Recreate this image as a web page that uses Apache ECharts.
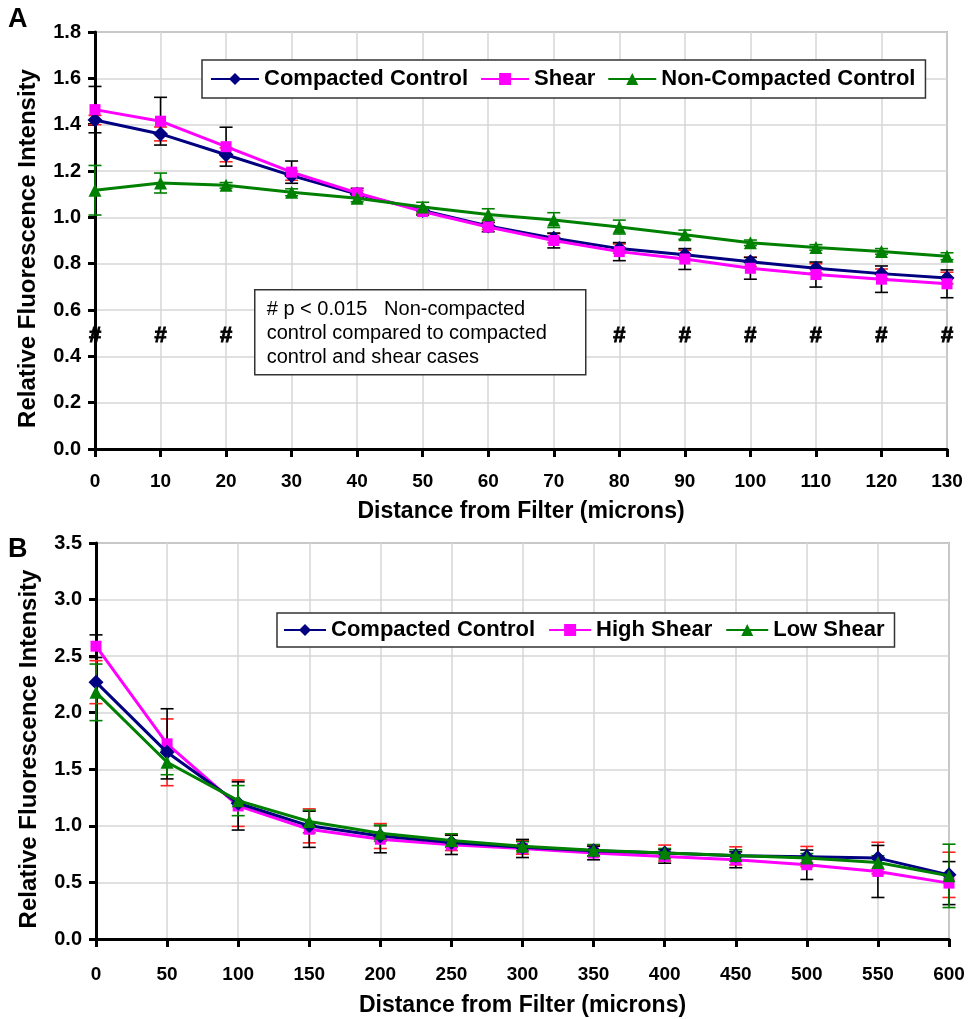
<!DOCTYPE html>
<html>
<head>
<meta charset="utf-8">
<script src="https://cdn.jsdelivr.net/npm/echarts@6/dist/echarts.min.js"></script>
<style>
  html, body { margin: 0; padding: 0; background: #fff; }
  #chart { width: 968px; height: 1019px; }
</style>
</head>
<body>
<div id="chart"></div>
<script>
// Panel A: distance from filter (microns) and mean relative fluorescence
const distA = [0, 10, 20, 30, 40, 50, 60, 70, 80, 90, 100, 110, 120, 130];
const compactedA = [1.42, 1.36, 1.27, 1.18, 1.10, 1.03, 0.963, 0.91, 0.865, 0.838, 0.808, 0.78, 0.757, 0.738];
const shearA = [1.465, 1.415, 1.305, 1.195, 1.105, 1.025, 0.958, 0.90, 0.852, 0.82, 0.78, 0.753, 0.733, 0.713];
const nonCompactedA = [1.117, 1.148, 1.138, 1.108, 1.082, 1.045, 1.012, 0.988, 0.958, 0.925, 0.89, 0.87, 0.853, 0.832];
// Panel A: standard deviations
const compactedErrA = [0.02, 0.03, 0.03, 0.02, 0.015, 0.015, 0.015, 0.02, 0.02, 0.02, 0.02, 0.02, 0.02, 0.025];
const shearErrA = [0.10, 0.103, 0.084, 0.048, 0.02, 0.015, 0.02, 0.032, 0.039, 0.045, 0.047, 0.054, 0.057, 0.06];
const nonCompactedErrA = [0.107, 0.043, 0.012, 0.015, 0.015, 0.02, 0.025, 0.032, 0.03, 0.02, 0.012, 0.012, 0.012, 0.015];
// Panel A: distances with p < 0.015, and the height of the marker row
const signifX = [0, 10, 20, 80, 90, 100, 110, 120, 130];
const signifY = 0.49;

// Panel B: distance from filter (microns) and mean relative fluorescence
const distB = [0, 50, 100, 150, 200, 250, 300, 350, 400, 450, 500, 550, 600];
const compactedB = [2.27, 1.65, 1.20, 1.00, 0.91, 0.852, 0.81, 0.78, 0.76, 0.735, 0.728, 0.715, 0.567];
const highShearB = [2.588, 1.725, 1.176, 0.97, 0.882, 0.832, 0.80, 0.76, 0.73, 0.70, 0.656, 0.597, 0.494];
const lowShearB = [2.18, 1.562, 1.223, 1.038, 0.935, 0.87, 0.82, 0.785, 0.76, 0.738, 0.715, 0.676, 0.558];
// Panel B: standard deviations
const compactedErrB = [0.19, 0.295, 0.205, 0.15, 0.11, 0.07, 0.06, 0.05, 0.07, 0.08, 0.09, 0.14, 0.2];
const highShearErrB = [0.1, 0.31, 0.213, 0.16, 0.12, 0.085, 0.08, 0.06, 0.06, 0.07, 0.13, 0.23, 0.19];
const lowShearErrB = [0.25, 0.11, 0.133, 0.1, 0.07, 0.06, 0.04, 0.05, 0.04, 0.05, 0.04, 0.06, 0.28];

// Axis ticks
const yTicksA = { min: 0, max: 1.8, interval: 0.2 };
const xTicksA = { min: 0, max: 130, interval: 10 };
const yTicksB = { min: 0, max: 3.5, interval: 0.5 };
const xTicksB = { min: 0, max: 600, interval: 50 };

const FONT = '"Liberation Sans", Arial, sans-serif';
const NAVY = '#000080', MAGENTA = '#FF00FF', GREEN = '#008000';

const pairs = (xs, ys) => xs.map((x, i) => [x, ys[i]]);
const errRows = (xs, ys, es) => xs.map((x, i) => [x, ys[i] - es[i], ys[i] + es[i]]);

function errorBars(data, color, gridIdx) {
  return {
    type: 'custom',
    xAxisIndex: gridIdx,
    yAxisIndex: gridIdx,
    data: data,
    z: 1,
    silent: true,
    encode: { x: 0, y: [1, 2] },
    renderItem: function (params, api) {
      const x = api.value(0);
      const lo = api.coord([x, api.value(1)]);
      const hi = api.coord([x, api.value(2)]);
      const cap = 6.5;
      const style = { stroke: color, lineWidth: 1.6 };
      return {
        type: 'group',
        children: [
          { type: 'line', shape: { x1: hi[0], y1: hi[1], x2: lo[0], y2: lo[1] }, style: style },
          { type: 'line', shape: { x1: hi[0] - cap, y1: hi[1], x2: hi[0] + cap, y2: hi[1] }, style: style },
          { type: 'line', shape: { x1: lo[0] - cap, y1: lo[1], x2: lo[0] + cap, y2: lo[1] }, style: style }
        ]
      };
    }
  };
}

// "#" markers placed at each significant distance
function signifMarks(xs, y, gridIdx) {
  return {
    type: 'custom',
    xAxisIndex: gridIdx,
    yAxisIndex: gridIdx,
    data: xs.map(x => [x, y]),
    z: 6,
    silent: true,
    renderItem: function (params, api) {
      const p = api.coord([api.value(0), api.value(1)]);
      return {
        type: 'text',
        x: p[0], y: p[1],
        style: {
          text: '#', font: 'bold 22px ' + FONT,
          fill: '#000', stroke: '#000', lineWidth: 0.9,
          align: 'center', verticalAlign: 'middle'
        }
      };
    }
  };
}

function lineSeries(name, xs, ys, color, symbol, size, gridIdx, z) {
  return {
    type: 'line',
    name: name,
    xAxisIndex: gridIdx,
    yAxisIndex: gridIdx,
    data: pairs(xs, ys),
    symbol: symbol,
    symbolSize: size,
    showAllSymbol: true,
    z: z,
    itemStyle: { color: color },
    lineStyle: { color: color, width: 3 },
    emphasis: { disabled: true }
  };
}

function xAxis(gridIdx, t, labelMargin, nameGap) {
  return {
    type: 'value', gridIndex: gridIdx, min: t.min, max: t.max, interval: t.interval,
    name: 'Distance from Filter (microns)', nameLocation: 'middle', nameGap: nameGap,
    nameTextStyle: { fontFamily: FONT, fontWeight: 'bold', fontSize: 23, color: '#000' },
    axisLine: { onZero: false, lineStyle: { color: '#000', width: 3 } },
    axisTick: { show: true, inside: false, length: 8, lineStyle: { color: '#000', width: 3 } },
    axisLabel: { fontFamily: FONT, fontWeight: 'bold', fontSize: 19, color: '#000', margin: labelMargin },
    splitLine: { show: true, lineStyle: { color: '#d6d6d6', width: 1.5 } }
  };
}

function yAxis(gridIdx, t) {
  return {
    type: 'value', gridIndex: gridIdx, min: t.min, max: t.max, interval: t.interval,
    name: 'Relative Fluorescence Intensity', nameLocation: 'middle', nameGap: 55,
    nameTextStyle: { fontFamily: FONT, fontWeight: 'bold', fontSize: 24, color: '#000', padding: [0, 16, 0, 0] },
    axisLine: { onZero: false, lineStyle: { color: '#000', width: 3 } },
    axisTick: { show: true, inside: false, length: 7, lineStyle: { color: '#000', width: 3 } },
    axisLabel: { fontFamily: FONT, fontWeight: 'bold', fontSize: 20, color: '#000', margin: 14,
      formatter: v => v.toFixed(1) },
    splitLine: { show: true, lineStyle: { color: '#d6d6d6', width: 1.5 } }
  };
}

function legend(names, left, top, itemWidth, itemGap, pad) {
  return {
    data: names,
    left: left, top: top,
    orient: 'horizontal',
    itemWidth: itemWidth, itemHeight: 15, itemGap: itemGap,
    padding: pad,
    borderColor: '#333', borderWidth: 1.5,
    backgroundColor: '#fff',
    selectedMode: false,
    textStyle: { fontFamily: FONT, fontWeight: 'bold', fontSize: 22, color: '#000' }
  };
}

const chart = echarts.init(document.getElementById('chart'), null, { renderer: 'canvas' });

chart.setOption({
  animation: false,
  backgroundColor: '#fff',
  grid: [
    { left: 95, top: 32, width: 852, height: 417, outerBoundsMode: 'none', containLabel: false,
      show: true, borderColor: '#808080', borderWidth: 1.5, backgroundColor: 'transparent' },
    { left: 96, top: 543, width: 853, height: 396, outerBoundsMode: 'none', containLabel: false,
      show: true, borderColor: '#808080', borderWidth: 1.5, backgroundColor: 'transparent' }
  ],
  xAxis: [xAxis(0, xTicksA, 23, 51), xAxis(1, xTicksB, 26, 55)],
  yAxis: [yAxis(0, yTicksA), yAxis(1, yTicksB)],
  legend: [
    legend(['Compacted Control', 'Shear', 'Non-Compacted Control'], 202, 60, 48, 12, [8, 10, 8, 8]),
    legend(['Compacted Control', 'High Shear', 'Low Shear'], 277, 613, 42, 13, [6, 10, 6, 6])
  ],
  graphic: [
    { type: 'text', left: 8, top: 6, z: 100, style: { text: 'A', font: 'bold 27px ' + FONT, fill: '#000' } },
    { type: 'text', left: 8, top: 536, z: 100, style: { text: 'B', font: 'bold 27px ' + FONT, fill: '#000' } },
    {
      type: 'group', left: 254, top: 289, z: 100,
      children: [
        { type: 'rect', z: 100, shape: { x: 0, y: 0, width: 331, height: 85 }, style: { fill: '#fff', stroke: '#333', lineWidth: 1.5 } },
        { type: 'text', z: 101, x: 12, y: 8, style: {
            text: '# p < 0.015   Non-compacted\ncontrol compared to compacted\ncontrol and shear cases',
            font: '20px ' + FONT, fill: '#000', lineHeight: 24 } }
      ]
    }
  ],
  series: [
    errorBars(errRows(distA, compactedA, compactedErrA), '#ff2020', 0),
    errorBars(errRows(distA, shearA, shearErrA), '#000', 0),
    errorBars(errRows(distA, nonCompactedA, nonCompactedErrA), GREEN, 0),
    lineSeries('Compacted Control', distA, compactedA, NAVY, 'diamond', 15, 0, 3),
    lineSeries('Shear', distA, shearA, MAGENTA, 'rect', 11, 0, 4),
    lineSeries('Non-Compacted Control', distA, nonCompactedA, GREEN, 'triangle', 13, 0, 5),
    signifMarks(signifX, signifY, 0),
    errorBars(errRows(distB, compactedB, compactedErrB), '#ff2020', 1),
    errorBars(errRows(distB, highShearB, highShearErrB), '#000', 1),
    errorBars(errRows(distB, lowShearB, lowShearErrB), GREEN, 1),
    lineSeries('High Shear', distB, highShearB, MAGENTA, 'rect', 11, 1, 3),
    lineSeries('Compacted Control', distB, compactedB, NAVY, 'diamond', 15, 1, 4),
    lineSeries('Low Shear', distB, lowShearB, GREEN, 'triangle', 13, 1, 5)
  ]
});
</script>
</body>
</html>
